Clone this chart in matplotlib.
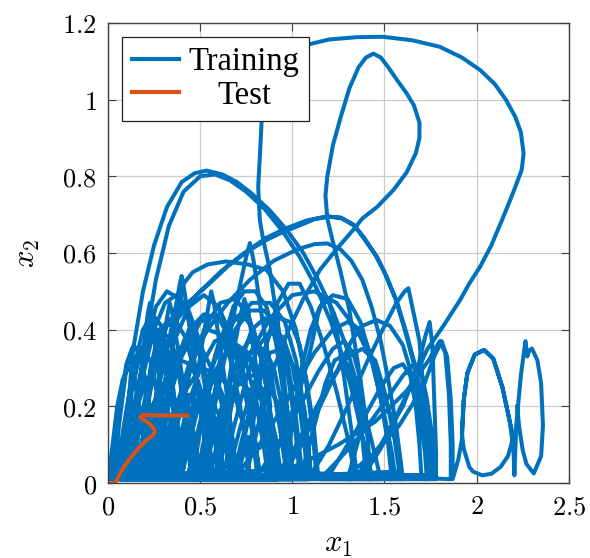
import numpy as np
import matplotlib
matplotlib.use("Agg")
import matplotlib.pyplot as plt
from matplotlib.ticker import FixedLocator, FuncFormatter

plt.rcParams['mathtext.fontset'] = 'cm'

# ---- data: (x1, x2) points, in trajectory order ----
# small arches that fill the bottom-left tangle
arches_small = [
    [(0.00, 0.00), (0.02, 0.08), (0.05, 0.20), (0.08, 0.27), (0.11, 0.30), (0.14, 0.28), (0.17, 0.20), (0.20, 0.08), (0.22, 0.01)],
    [(0.05, 0.01), (0.09, 0.15), (0.14, 0.30), (0.19, 0.40), (0.24, 0.44), (0.29, 0.41), (0.34, 0.30), (0.38, 0.15), (0.41, 0.02)],
    [(0.10, 0.01), (0.15, 0.18), (0.19, 0.33), (0.215, 0.44), (0.228, 0.47), (0.24, 0.43), (0.27, 0.30), (0.31, 0.15), (0.35, 0.02)],
    [(0.08, 0.01), (0.14, 0.20), (0.20, 0.34), (0.27, 0.40), (0.33, 0.38), (0.39, 0.30), (0.45, 0.17), (0.50, 0.03)],
    [(0.15, 0.01), (0.22, 0.15), (0.30, 0.30), (0.36, 0.44), (0.39, 0.52), (0.40, 0.54), (0.415, 0.50), (0.45, 0.38), (0.50, 0.22), (0.55, 0.05), (0.57, 0.01)],
    [(0.20, 0.01), (0.26, 0.18), (0.33, 0.30), (0.42, 0.37), (0.50, 0.36), (0.58, 0.28), (0.64, 0.16), (0.68, 0.03)],
    [(0.10, 0.01), (0.14, 0.14), (0.19, 0.28), (0.25, 0.40), (0.31, 0.47), (0.37, 0.49), (0.43, 0.46), (0.49, 0.38), (0.54, 0.26), (0.58, 0.12), (0.60, 0.01)],
    [(0.25, 0.02), (0.32, 0.20), (0.40, 0.33), (0.50, 0.42), (0.58, 0.44), (0.66, 0.40), (0.73, 0.30), (0.79, 0.15), (0.82, 0.02)],
    [(0.30, 0.01), (0.35, 0.12), (0.42, 0.24), (0.50, 0.30), (0.57, 0.29), (0.63, 0.22), (0.68, 0.10), (0.70, 0.01)],
    [(0.02, 0.01), (0.04, 0.10), (0.07, 0.22), (0.10, 0.31), (0.13, 0.35), (0.16, 0.35), (0.19, 0.30), (0.22, 0.20), (0.25, 0.09), (0.27, 0.01)],
    [(0.32, 0.01), (0.38, 0.16), (0.45, 0.30), (0.53, 0.41), (0.61, 0.47), (0.69, 0.48), (0.76, 0.44), (0.82, 0.35), (0.87, 0.22), (0.90, 0.09), (0.91, 0.01)],
    [(0.35, 0.02), (0.42, 0.18), (0.50, 0.30), (0.58, 0.37), (0.66, 0.38), (0.74, 0.33), (0.80, 0.22), (0.85, 0.08), (0.87, 0.01)],
    [(0.28, 0.02), (0.32, 0.25), (0.37, 0.42), (0.41, 0.52), (0.46, 0.55), (0.54, 0.57), (0.64, 0.578), (0.76, 0.57), (0.86, 0.556), (0.95, 0.50), (1.02, 0.40), (1.07, 0.28), (1.11, 0.14), (1.13, 0.02)],
    [(0.07, 0.01), (0.10, 0.12), (0.13, 0.24), (0.17, 0.33), (0.21, 0.38), (0.25, 0.385), (0.29, 0.35), (0.33, 0.26), (0.37, 0.14), (0.40, 0.02)],
    [(0.48, 0.01), (0.54, 0.16), (0.61, 0.30), (0.69, 0.40), (0.77, 0.45), (0.85, 0.45), (0.92, 0.40), (0.98, 0.30), (1.02, 0.17), (1.05, 0.04)],
    [(0.45, 0.02), (0.50, 0.15), (0.56, 0.26), (0.63, 0.33), (0.70, 0.35), (0.77, 0.32), (0.83, 0.24), (0.88, 0.12), (0.91, 0.02)],
    [(0.50, 0.01), (0.57, 0.18), (0.64, 0.34), (0.70, 0.48), (0.75, 0.59), (0.77, 0.626), (0.79, 0.58), (0.83, 0.45), (0.88, 0.30), (0.93, 0.15), (0.97, 0.02)],
    [(0.26, 0.01), (0.30, 0.12), (0.34, 0.24), (0.38, 0.33), (0.42, 0.38), (0.46, 0.38), (0.50, 0.33), (0.53, 0.24), (0.55, 0.12), (0.56, 0.01)],
    [(0.13, 0.01), (0.17, 0.14), (0.22, 0.27), (0.27, 0.36), (0.32, 0.41), (0.37, 0.42), (0.42, 0.38), (0.47, 0.29), (0.51, 0.17), (0.54, 0.03)],
    [(0.55, 0.01), (0.60, 0.12), (0.66, 0.22), (0.73, 0.28), (0.80, 0.28), (0.86, 0.22), (0.91, 0.12), (0.94, 0.02)],
    [(0.62, 0.01), (0.68, 0.14), (0.75, 0.27), (0.82, 0.36), (0.89, 0.40), (0.95, 0.38), (1.00, 0.31), (1.04, 0.20), (1.07, 0.08), (1.08, 0.01)],
    [(0.18, 0.01), (0.22, 0.12), (0.27, 0.22), (0.33, 0.29), (0.39, 0.32), (0.45, 0.31), (0.50, 0.25), (0.54, 0.15), (0.57, 0.02)],
    [(0.12, 0.01), (0.16, 0.20), (0.21, 0.36), (0.26, 0.46), (0.32, 0.50), (0.39, 0.48), (0.46, 0.40), (0.53, 0.28), (0.59, 0.14), (0.63, 0.02)],
    [(0.40, 0.01), (0.46, 0.20), (0.51, 0.36), (0.545, 0.46), (0.56, 0.50), (0.575, 0.47), (0.60, 0.38), (0.64, 0.25), (0.68, 0.10), (0.70, 0.01)],
    [(0.24, 0.01), (0.29, 0.16), (0.36, 0.30), (0.44, 0.40), (0.52, 0.44), (0.60, 0.43), (0.67, 0.37), (0.73, 0.27), (0.78, 0.14), (0.81, 0.02)],
    [(0.04, 0.01), (0.07, 0.10), (0.11, 0.22), (0.15, 0.31), (0.19, 0.34), (0.23, 0.32), (0.26, 0.25), (0.29, 0.14), (0.31, 0.03)],
    [(0.52, 0.01), (0.57, 0.20), (0.62, 0.36), (0.68, 0.46), (0.74, 0.50), (0.80, 0.50), (0.86, 0.46), (0.91, 0.37), (0.95, 0.24), (0.98, 0.10), (0.99, 0.01)],
    [(0.60, 0.02), (0.65, 0.15), (0.71, 0.30), (0.78, 0.40), (0.85, 0.43), (0.91, 0.40), (0.97, 0.30), (1.01, 0.17), (1.04, 0.02)],
    [(0.33, 0.01), (0.37, 0.14), (0.42, 0.27), (0.48, 0.36), (0.54, 0.40), (0.60, 0.39), (0.66, 0.33), (0.71, 0.22), (0.75, 0.10), (0.77, 0.01)],
    [(0.03, 0.01), (0.06, 0.15), (0.10, 0.30), (0.14, 0.36), (0.18, 0.33), (0.22, 0.22), (0.26, 0.08), (0.28, 0.01)],
    [(0.70, 0.01), (0.75, 0.14), (0.81, 0.28), (0.87, 0.38), (0.93, 0.43), (0.99, 0.42), (1.04, 0.36), (1.08, 0.26), (1.12, 0.13), (1.14, 0.02)],
    [(0.38, 0.01), (0.43, 0.12), (0.49, 0.21), (0.56, 0.26), (0.62, 0.27), (0.68, 0.24), (0.73, 0.16), (0.76, 0.06), (0.77, 0.01)],
    [(0.22, 0.01), (0.28, 0.20), (0.35, 0.36), (0.44, 0.46), (0.52, 0.49), (0.60, 0.46), (0.68, 0.37), (0.75, 0.24), (0.80, 0.10), (0.83, 0.01)],
    [(0.36, 0.01), (0.40, 0.10), (0.45, 0.18), (0.50, 0.22), (0.55, 0.22), (0.60, 0.18), (0.64, 0.10), (0.66, 0.02)],
    [(0.46, 0.01), (0.50, 0.14), (0.55, 0.28), (0.61, 0.38), (0.67, 0.43), (0.73, 0.44), (0.79, 0.40), (0.84, 0.31), (0.88, 0.19), (0.91, 0.05), (0.92, 0.01)],
    [(0.09, 0.01), (0.12, 0.10), (0.16, 0.20), (0.20, 0.26), (0.24, 0.27), (0.28, 0.24), (0.31, 0.16), (0.33, 0.07), (0.34, 0.01)],
    [(0.58, 0.01), (0.63, 0.18), (0.68, 0.34), (0.72, 0.44), (0.74, 0.48), (0.76, 0.45), (0.79, 0.35), (0.83, 0.22), (0.87, 0.08), (0.88, 0.01)],
    [(0.40, 0.02), (0.48, 0.18), (0.58, 0.32), (0.68, 0.42), (0.78, 0.47), (0.88, 0.47), (0.96, 0.42), (1.02, 0.32), (1.07, 0.18), (1.10, 0.03)],
    [(0.52, 0.01), (0.56, 0.10), (0.61, 0.19), (0.67, 0.25), (0.73, 0.26), (0.79, 0.23), (0.84, 0.16), (0.88, 0.07), (0.89, 0.01)],
    [(0.20, 0.01), (0.25, 0.18), (0.29, 0.33), (0.32, 0.43), (0.335, 0.47), (0.35, 0.44), (0.38, 0.35), (0.42, 0.22), (0.46, 0.08), (0.48, 0.01)],
    [(0.15, 0.02), (0.18, 0.10), (0.22, 0.18), (0.26, 0.22), (0.30, 0.22), (0.33, 0.18), (0.36, 0.10), (0.37, 0.02)],
    [(0.58, 0.01), (0.62, 0.12), (0.67, 0.23), (0.73, 0.31), (0.79, 0.35), (0.85, 0.35), (0.90, 0.30), (0.94, 0.21), (0.97, 0.10), (0.98, 0.01)],
    [(0.27, 0.01), (0.31, 0.10), (0.36, 0.19), (0.41, 0.23), (0.46, 0.23), (0.50, 0.19), (0.53, 0.11), (0.55, 0.03)],
    [(0.65, 0.02), (0.72, 0.15), (0.80, 0.27), (0.88, 0.34), (0.95, 0.35), (1.01, 0.30), (1.06, 0.20), (1.09, 0.08), (1.10, 0.01)],
    [(0.16, 0.01), (0.19, 0.12), (0.23, 0.24), (0.27, 0.33), (0.31, 0.37), (0.35, 0.36), (0.38, 0.30), (0.41, 0.20), (0.44, 0.08), (0.45, 0.01)],
    [(0.43, 0.01), (0.47, 0.10), (0.52, 0.20), (0.58, 0.29), (0.64, 0.34), (0.70, 0.36), (0.76, 0.34), (0.81, 0.28), (0.85, 0.18), (0.88, 0.07), (0.89, 0.01)],
    [(0.68, 0.01), (0.72, 0.10), (0.77, 0.19), (0.82, 0.24), (0.87, 0.25), (0.92, 0.21), (0.96, 0.13), (0.98, 0.04), (0.99, 0.01)],
    [(0.55, 0.03), (0.60, 0.10), (0.64, 0.22), (0.70, 0.32), (0.76, 0.37), (0.82, 0.36), (0.86, 0.30), (0.88, 0.20), (0.87, 0.12), (0.82, 0.09), (0.76, 0.12), (0.72, 0.05), (0.66, 0.01)],
]

# the two arches peaking near 0.81
arch_081_a = [(0.06, 0.01), (0.10, 0.15), (0.136, 0.347), (0.19, 0.50), (0.25, 0.62), (0.32, 0.72), (0.40, 0.785),
              (0.47, 0.808), (0.535, 0.815), (0.62, 0.805), (0.70, 0.785), (0.78, 0.755), (0.88, 0.71), (0.97, 0.66),
              (1.06, 0.60), (1.14, 0.53), (1.22, 0.45), (1.29, 0.36), (1.35, 0.26), (1.41, 0.15), (1.46, 0.05), (1.48, 0.01)]
arch_081_b = [(0.12, 0.01), (0.16, 0.18), (0.20, 0.36), (0.26, 0.53), (0.33, 0.67), (0.41, 0.76), (0.50, 0.80),
              (0.58, 0.805), (0.66, 0.79), (0.75, 0.76), (0.85, 0.715), (0.95, 0.655), (1.04, 0.59), (1.13, 0.51),
              (1.21, 0.42), (1.28, 0.32), (1.34, 0.21), (1.39, 0.10), (1.42, 0.02)]

# the double arch peaking near 0.695 and the one near 0.625
arch_070_a = [(0.18, 0.01), (0.20, 0.15), (0.23, 0.30), (0.28, 0.40), (0.41, 0.46), (0.55, 0.52), (0.66, 0.57),
              (0.76, 0.605), (0.86, 0.634), (0.95, 0.655), (1.04, 0.672), (1.12, 0.688), (1.20, 0.695), (1.27, 0.69),
              (1.34, 0.67), (1.40, 0.63), (1.46, 0.59), (1.51, 0.54), (1.57, 0.47), (1.62, 0.39), (1.67, 0.30),
              (1.71, 0.20), (1.75, 0.10), (1.77, 0.02)]
arch_070_b = [(0.22, 0.02), (0.25, 0.18), (0.30, 0.33), (0.38, 0.43), (0.50, 0.50), (0.62, 0.555), (0.74, 0.60),
              (0.86, 0.64), (0.97, 0.665), (1.08, 0.685), (1.18, 0.695), (1.26, 0.693), (1.33, 0.675), (1.39, 0.64),
              (1.45, 0.595), (1.50, 0.55), (1.56, 0.48), (1.61, 0.40), (1.66, 0.31), (1.70, 0.21), (1.73, 0.11), (1.75, 0.02)]
arch_063 = [(0.30, 0.02), (0.36, 0.18), (0.44, 0.31), (0.54, 0.40), (0.65, 0.47), (0.77, 0.53), (0.90, 0.58),
            (1.03, 0.61), (1.12, 0.623), (1.19, 0.625), (1.26, 0.61), (1.32, 0.58), (1.38, 0.53), (1.43, 0.46),
            (1.48, 0.37), (1.52, 0.27), (1.56, 0.16), (1.59, 0.05), (1.60, 0.01)]

# big outer loop reaching 1.16
loop_top = [(1.00, 0.03), (0.99, 0.12), (0.96, 0.25), (0.93, 0.39), (0.895, 0.50), (0.878, 0.556), (0.84, 0.64),
            (0.824, 0.686), (0.815, 0.773), (0.825, 0.86), (0.833, 0.939), (0.85, 1.02), (0.90, 1.09), (0.98, 1.125),
            (1.078, 1.143), (1.20, 1.157), (1.35, 1.163), (1.49, 1.164), (1.65, 1.155), (1.80, 1.138), (1.92, 1.11),
            (2.02, 1.077), (2.10, 1.04), (2.16, 0.999), (2.21, 0.955), (2.24, 0.915), (2.255, 0.86), (2.245, 0.817),
            (2.20, 0.76), (2.15, 0.70), (2.08, 0.62), (2.02, 0.565), (1.96, 0.52), (1.91, 0.477), (1.82, 0.41),
            (1.73, 0.347), (1.64, 0.25), (1.56, 0.17), (1.48, 0.09), (1.40, 0.03), (1.32, 0.01)]

# loop peaking at 1.12
loop_112 = [(1.30, 0.01), (1.38, 0.15), (1.36, 0.30), (1.31, 0.45), (1.26, 0.555), (1.22, 0.63), (1.19, 0.69),
            (1.18, 0.75), (1.19, 0.80), (1.22, 0.88), (1.26, 0.95), (1.31, 1.03), (1.36, 1.085), (1.40, 1.11),
            (1.44, 1.12), (1.48, 1.11), (1.52, 1.085), (1.57, 1.05), (1.62, 1.017), (1.66, 0.985), (1.69, 0.94),
            (1.69, 0.90), (1.67, 0.86), (1.62, 0.81), (1.55, 0.765), (1.46, 0.72), (1.38, 0.69), (1.33, 0.66),
            (1.24, 0.61), (1.15, 0.556), (1.06, 0.48), (0.98, 0.40), (0.90, 0.30), (0.83, 0.18), (0.78, 0.08), (0.75, 0.02)]

# medium arches on the right half
arches_right = [
    [(0.50, 0.02), (0.62, 0.18), (0.75, 0.32), (0.88, 0.43), (1.00, 0.49), (1.12, 0.50), (1.24, 0.47), (1.35, 0.40), (1.45, 0.30), (1.53, 0.18), (1.58, 0.06), (1.59, 0.01)],
    [(1.05, 0.02), (1.12, 0.15), (1.18, 0.26), (1.23, 0.32), (1.27, 0.33), (1.31, 0.30), (1.35, 0.22), (1.38, 0.12), (1.40, 0.02)],
    [(0.75, 0.02), (0.80, 0.20), (0.86, 0.36), (0.92, 0.47), (0.98, 0.52), (1.04, 0.52), (1.10, 0.46), (1.17, 0.36), (1.24, 0.24), (1.30, 0.12), (1.34, 0.02)],
    [(0.80, 0.01), (0.92, 0.10), (1.04, 0.20), (1.14, 0.29), (1.22, 0.35), (1.28, 0.37), (1.33, 0.34), (1.37, 0.27), (1.40, 0.16), (1.42, 0.05), (1.43, 0.01)],
    [(0.70, 0.02), (0.85, 0.12), (1.00, 0.24), (1.12, 0.34), (1.22, 0.40), (1.30, 0.42), (1.37, 0.40), (1.43, 0.33), (1.48, 0.22), (1.52, 0.10), (1.54, 0.01)],
    [(0.95, 0.02), (1.05, 0.10), (1.15, 0.20), (1.25, 0.30), (1.32, 0.37), (1.38, 0.41), (1.457, 0.425), (1.53, 0.41), (1.60, 0.36), (1.65, 0.28), (1.69, 0.18), (1.72, 0.08), (1.73, 0.01)],
    [(0.95, 0.02), (1.00, 0.15), (1.05, 0.30), (1.10, 0.40), (1.15, 0.46), (1.22, 0.49), (1.30, 0.48), (1.37, 0.42), (1.43, 0.32), (1.49, 0.20), (1.54, 0.08), (1.56, 0.01)],
    [(0.85, 0.02), (0.95, 0.12), (1.04, 0.24), (1.10, 0.35), (1.14, 0.44), (1.17, 0.48), (1.20, 0.47), (1.24, 0.40), (1.28, 0.28), (1.32, 0.14), (1.35, 0.02)],
    [(0.90, 0.01), (1.00, 0.08), (1.10, 0.17), (1.20, 0.26), (1.30, 0.33), (1.38, 0.35), (1.45, 0.32), (1.50, 0.24), (1.55, 0.13), (1.58, 0.03)],
    [(1.10, 0.02), (1.20, 0.10), (1.30, 0.20), (1.40, 0.31), (1.49, 0.40), (1.565, 0.47), (1.61, 0.50), (1.63, 0.508), (1.655, 0.45), (1.69, 0.37), (1.71, 0.25), (1.73, 0.12), (1.74, 0.02)],
    [(1.20, 0.02), (1.30, 0.10), (1.40, 0.18), (1.48, 0.25), (1.55, 0.30), (1.60, 0.31), (1.64, 0.28), (1.67, 0.20), (1.69, 0.10), (1.70, 0.02)],
    [(1.35, 0.02), (1.48, 0.10), (1.60, 0.20), (1.68, 0.30), (1.72, 0.38), (1.745, 0.42), (1.76, 0.36), (1.77, 0.22), (1.78, 0.08), (1.78, 0.01)],
    [(1.15, 0.01), (1.25, 0.06), (1.38, 0.13), (1.50, 0.21), (1.60, 0.28), (1.66, 0.31), (1.70, 0.29), (1.73, 0.22), (1.76, 0.12), (1.77, 0.02)],
    [(0.60, 0.01), (0.85, 0.02), (1.05, 0.05), (1.25, 0.10), (1.45, 0.16), (1.62, 0.24), (1.74, 0.32), (1.80, 0.37), (1.83, 0.34), (1.85, 0.23), (1.86, 0.10), (1.86, 0.01)],
    [(1.30, 0.02), (1.45, 0.08), (1.58, 0.15), (1.71, 0.25), (1.77, 0.33), (1.81, 0.37), (1.84, 0.33), (1.86, 0.216), (1.87, 0.10), (1.87, 0.01)],
]

# oscillations at the far right (end of the run)
tail_right = [(1.90, 0.06), (1.92, 0.112), (1.93, 0.216), (1.95, 0.287), (1.99, 0.335), (2.04, 0.347), (2.09, 0.325),
              (2.14, 0.25), (2.18, 0.16), (2.20, 0.12), (2.17, 0.07), (2.13, 0.042), (2.08, 0.024), (2.03, 0.02),
              (1.98, 0.03), (1.96, 0.042), (1.93, 0.09), (1.92, 0.13), (1.93, 0.216), (1.95, 0.287), (1.99, 0.335),
              (2.04, 0.347), (2.09, 0.325), (2.14, 0.25), (2.18, 0.16), (2.20, 0.09), (2.205, 0.02), (2.215, 0.15),
              (2.24, 0.28), (2.265, 0.37), (2.275, 0.33), (2.285, 0.345), (2.30, 0.351), (2.33, 0.32), (2.35, 0.26),
              (2.36, 0.15), (2.35, 0.07), (2.31, 0.025), (2.27, 0.05), (2.25, 0.086), (2.23, 0.15), (2.22, 0.20)]

test_x1 = [0.0, 0.04, 0.06, 0.09, 0.13, 0.17, 0.21, 0.245, 0.255, 0.24, 0.215, 0.19, 0.175, 0.19, 0.21, 0.30, 0.43]
test_x2 = [0.0, 0.0, 0.02, 0.045, 0.07, 0.093, 0.112, 0.125, 0.135, 0.148, 0.158, 0.166, 0.172, 0.178, 0.177, 0.176, 0.176]

x_ticks = [0, 0.5, 1, 1.5, 2, 2.5]
y_ticks = [0, 0.2, 0.4, 0.6, 0.8, 1, 1.2]

# ---- assemble the training run in order ----
pieces = (arches_small + [arch_081_a, arch_081_b, arch_070_a, arch_070_b, arch_063, loop_top, loop_112]
          + arches_right + [tail_right])
train = np.array([p for piece in pieces for p in piece])

fig = plt.figure(figsize=(5.9, 5.58), dpi=100)
ax = fig.add_axes([0.183, 0.1344, 0.781, 0.8244])

ax.plot(train[:, 0], train[:, 1], color='#0072BD', lw=2.9, solid_joinstyle='round', label='Training')
ax.plot(test_x1, test_x2, color='#D95319', lw=2.9, solid_joinstyle='round', label='Test')

ax.set_xlim(0, 2.5)
ax.set_ylim(0, 1.2)
ax.xaxis.set_major_locator(FixedLocator(x_ticks))
ax.yaxis.set_major_locator(FixedLocator(y_ticks))
fmt = FuncFormatter(lambda v, pos: f'${v:g}$')
ax.xaxis.set_major_formatter(fmt)
ax.yaxis.set_major_formatter(fmt)
ax.tick_params(direction='in', top=True, right=True, length=6, width=0.8,
               color='#404040', labelsize=19, pad=8)
ax.grid(True, color='#cccccc', lw=0.9)
ax.set_axisbelow(True)
for s in ax.spines.values():
    s.set_color('#404040')
    s.set_linewidth(1.0)

ax.set_xlabel('$x_1$', fontsize=22, labelpad=7)
ax.set_ylabel('$x_2$', fontsize=22, labelpad=14)

leg = ax.legend(loc='upper left', bbox_to_anchor=(0.03, 0.97), borderaxespad=0,
                prop={'family': 'Liberation Serif', 'size': 23.5},
                fancybox=False, framealpha=1, edgecolor='#202020',
                handlelength=1.45, handletextpad=0.3, borderpad=0.3, labelspacing=0.1)
leg.get_frame().set_linewidth(0.9)
for h in leg.get_lines():
    h.set_linewidth(3.0)

# centre the legend texts in their column
fig.canvas.draw()
texts = leg.get_texts()
widths = [t.get_window_extent().width for t in texts]
for t, w in zip(texts, widths):
    t.set_position(((max(widths) - w) / 2, 0))

fig.savefig('out.png', dpi=100)
